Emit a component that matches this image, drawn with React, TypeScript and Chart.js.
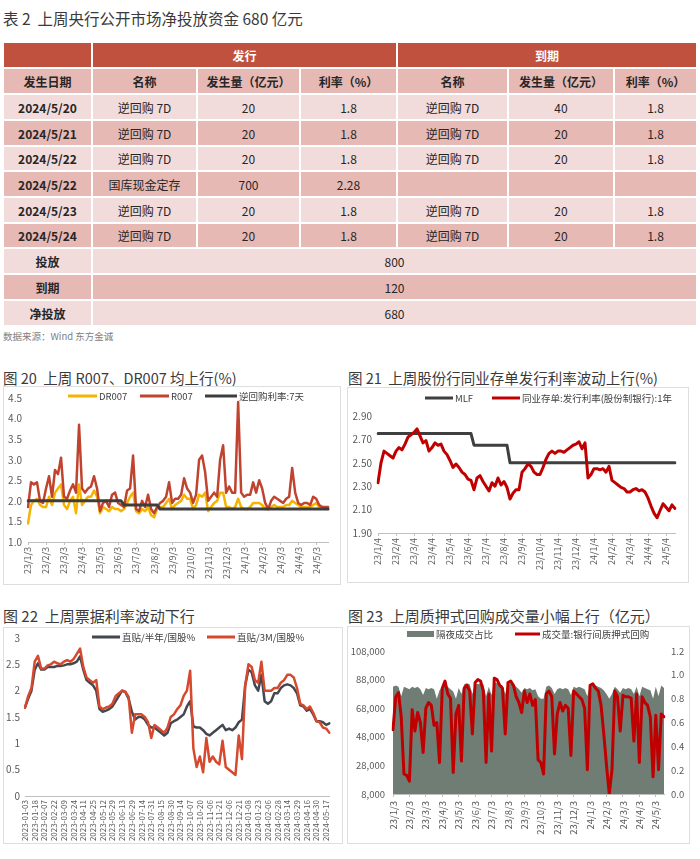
import React, { useEffect, useRef } from 'react';
import { Chart, registerables } from 'chart.js';

Chart.register(...registerables);

const FONT = "'Noto Sans CJK SC', 'Noto Sans', sans-serif";
Chart.defaults.font.family = FONT;

// ---------------- Table data ----------------
const tableTitle = '表 2  上周央行公开市场净投放资金 680 亿元';
const groupHeaders = ['发行', '到期'];
const columnHeaders = ['发生日期', '名称', '发生量（亿元）', '利率（%）', '名称', '发生量（亿元）', '利率（%）'];
const opDates = ['2024/5/20', '2024/5/21', '2024/5/22', '2024/5/22', '2024/5/23', '2024/5/24'];
const issueNames = ['逆回购 7D', '逆回购 7D', '逆回购 7D', '国库现金定存', '逆回购 7D', '逆回购 7D'];
const issueAmounts = ['20', '20', '20', '700', '20', '20'];
const issueRates = ['1.8', '1.8', '1.8', '2.28', '1.8', '1.8'];
const maturityNames = ['逆回购 7D', '逆回购 7D', '逆回购 7D', '', '逆回购 7D', '逆回购 7D'];
const maturityAmounts = ['40', '20', '20', '', '20', '20'];
const maturityRates = ['1.8', '1.8', '1.8', '', '1.8', '1.8'];
const summaryLabels = ['投放', '到期', '净投放'];
const summaryValues = ['800', '120', '680'];
const sourceNote = '数据来源：Wind 东方金诚';

// ---------------- Chart 20 ----------------
const chart20Title = '图 20  上周 R007、DR007 均上行(%)';
const chart20Ticks = ['23/1/3', '23/2/3', '23/3/3', '23/4/3', '23/5/3', '23/6/3', '23/7/3', '23/8/3', '23/9/3', '23/10/3', '23/11/3', '23/12/3', '24/1/3', '24/2/3', '24/3/3', '24/4/3', '24/5/3'];
const chart20Names = ['DR007', 'R007', '逆回购利率:7天'];
const dr007 = [
  1.45, 1.9, 2.0, 2.05, 1.9, 1.85, 1.85, 2.1, 1.9, 2.2,
  2.3, 2.4, 1.9, 1.8, 2.0, 2.1, 1.7, 2.4, 1.9, 2.0,
  2.1, 2.1, 2.25, 2.1, 1.7, 1.85, 1.8, 1.75, 1.85, 1.8,
  1.8, 1.75, 1.8, 1.95, 2.1, 2.2, 1.75, 1.7, 1.8, 1.75,
  1.85, 1.65, 1.6, 1.8, 1.85, 1.85, 1.95, 2.05, 1.8, 1.9,
  1.95, 2.0, 2.15, 2.05, 2.05, 1.8, 1.9, 2.15, 2.1, 2.2,
  1.75, 1.85, 1.95, 2.0, 2.2, 2.2, 1.85, 1.85, 1.8, 1.85,
  2.05, 1.85, 1.8, 1.8, 1.85, 1.95, 1.95, 1.95, 1.9, 1.8,
  1.8, 1.85, 1.9, 1.85, 1.85, 1.85, 1.9, 1.9, 2.0, 1.95,
  1.9, 1.85, 1.85, 1.85, 1.85, 1.9, 1.95, 1.85, 1.85, 1.8,
  1.82,
];
const r007 = [
  1.85, 2.45, 2.4, 2.45, 2.0, 1.95, 2.3, 2.6, 2.1, 2.75,
  2.65, 3.05, 2.1, 2.05, 2.25, 2.4, 2.2, 3.85, 2.3, 2.2,
  2.3, 2.35, 2.6, 2.3, 1.75, 1.95, 2.0, 1.85, 2.15, 2.2,
  1.95, 1.9, 1.85, 2.25, 2.3, 3.1, 1.8, 1.75, 2.0, 1.85,
  2.15, 1.8, 1.7, 1.85, 1.95, 2.0, 2.1, 2.45, 1.95, 2.05,
  2.05, 2.15, 2.55, 2.3, 2.2, 1.95, 2.15, 3.0, 3.1, 2.7,
  2.0, 2.1, 2.2, 2.1, 3.0, 3.35, 2.2, 2.35, 2.2, 2.2,
  4.4, 2.2, 2.1, 2.15, 2.15, 2.45, 2.2, 2.5, 2.3, 1.95,
  1.8, 2.0, 2.1, 2.05, 2.0, 1.95, 2.05, 2.1, 2.8, 2.2,
  1.95, 1.9, 1.95, 1.95, 1.9, 2.1, 2.05, 1.9, 1.85, 1.85,
  1.85,
];
const reverseRepo7d = [
  2.0, 2.0, 2.0, 2.0, 2.0, 2.0, 2.0, 2.0, 2.0, 2.0,
  2.0, 2.0, 2.0, 2.0, 2.0, 2.0, 2.0, 2.0, 2.0, 2.0,
  2.0, 2.0, 2.0, 2.0, 2.0, 2.0, 2.0, 2.0, 2.0, 2.0,
  2.0, 2.0, 1.9, 1.9, 1.9, 1.9, 1.9, 1.9, 1.9, 1.9,
  1.9, 1.9, 1.9, 1.9, 1.8, 1.8, 1.8, 1.8, 1.8, 1.8,
  1.8, 1.8, 1.8, 1.8, 1.8, 1.8, 1.8, 1.8, 1.8, 1.8,
  1.8, 1.8, 1.8, 1.8, 1.8, 1.8, 1.8, 1.8, 1.8, 1.8,
  1.8, 1.8, 1.8, 1.8, 1.8, 1.8, 1.8, 1.8, 1.8, 1.8,
  1.8, 1.8, 1.8, 1.8, 1.8, 1.8, 1.8, 1.8, 1.8, 1.8,
  1.8, 1.8, 1.8, 1.8, 1.8, 1.8, 1.8, 1.8, 1.8, 1.8,
  1.8,
];

// ---------------- Chart 21 ----------------
const chart21Title = '图 21  上周股份行同业存单发行利率波动上行(%)';
const chart21Ticks = ['23/1/4', '23/2/4', '23/3/4', '23/4/4', '23/5/4', '23/6/4', '23/7/4', '23/8/4', '23/9/4', '23/10/4', '23/11/4', '23/12/4', '24/1/4', '24/2/4', '24/3/4', '24/4/4', '24/5/4'];
const chart21Names = ['MLF', '同业存单:发行利率(股份制银行):1年'];
const mlfRate = [
  2.75, 2.75, 2.75, 2.75, 2.75, 2.75, 2.75, 2.75, 2.75, 2.75,
  2.75, 2.75, 2.75, 2.75, 2.75, 2.75, 2.75, 2.75, 2.75, 2.75,
  2.75, 2.75, 2.75, 2.75, 2.75, 2.75, 2.75, 2.75, 2.75, 2.75,
  2.75, 2.75, 2.65, 2.65, 2.65, 2.65, 2.65, 2.65, 2.65, 2.65,
  2.65, 2.65, 2.65, 2.65, 2.5, 2.5, 2.5, 2.5, 2.5, 2.5,
  2.5, 2.5, 2.5, 2.5, 2.5, 2.5, 2.5, 2.5, 2.5, 2.5,
  2.5, 2.5, 2.5, 2.5, 2.5, 2.5, 2.5, 2.5, 2.5, 2.5,
  2.5, 2.5, 2.5, 2.5, 2.5, 2.5, 2.5, 2.5, 2.5, 2.5,
  2.5, 2.5, 2.5, 2.5, 2.5, 2.5, 2.5, 2.5, 2.5, 2.5,
  2.5, 2.5, 2.5, 2.5, 2.5, 2.5, 2.5, 2.5, 2.5, 2.5,
];
const ncdRate = [
  2.33, 2.5, 2.6, 2.58, 2.56, 2.54, 2.6, 2.63, 2.61, 2.66,
  2.72, 2.74, 2.76, 2.79, 2.73, 2.67, 2.69, 2.6, 2.63, 2.67,
  2.65, 2.66, 2.6, 2.57, 2.52, 2.46, 2.49, 2.46, 2.42, 2.4,
  2.36, 2.35, 2.27, 2.37, 2.39, 2.34, 2.3, 2.26, 2.33, 2.3,
  2.37, 2.31, 2.34, 2.29, 2.19, 2.24, 2.27, 2.27, 2.42, 2.45,
  2.49, 2.47, 2.42, 2.4, 2.4, 2.46, 2.53, 2.58, 2.6, 2.58,
  2.6, 2.6, 2.59, 2.61, 2.63, 2.65, 2.66, 2.68, 2.62, 2.67,
  2.37, 2.4, 2.45, 2.45, 2.44, 2.45, 2.42, 2.47, 2.35, 2.33,
  2.31, 2.29, 2.28, 2.25, 2.25, 2.27, 2.28, 2.26, 2.27, 2.25,
  2.2, 2.13, 2.07, 2.03, 2.09, 2.15, 2.12, 2.09, 2.14, 2.11,
];

// ---------------- Chart 22 ----------------
const chart22Title = '图 22  上周票据利率波动下行';
const chart22Ticks = ['2023-01-03', '2023-01-18', '2023-02-07', '2023-02-22', '2023-03-09', '2023-03-24', '2023-04-11', '2023-04-25', '2023-05-12', '2023-05-29', '2023-06-13', '2023-06-29', '2023-07-14', '2023-07-31', '2023-08-15', '2023-08-30', '2023-09-14', '2023-10-07', '2023-10-20', '2023-11-06', '2023-11-21', '2023-12-06', '2023-12-21', '2024-01-08', '2024-01-23', '2024-02-06', '2024-02-28', '2024-03-14', '2024-03-29', '2024-04-16', '2024-04-30', '2024-05-17'];
const chart22Names = ['直贴/半年/国股%', '直贴/3M/国股%'];
const bill6m = [
  1.68, 1.85, 2.0, 2.4, 2.52, 2.4, 2.4, 2.45, 2.45, 2.45,
  2.47, 2.47, 2.48, 2.5, 2.5, 2.52, 2.55, 2.65, 2.4, 2.2,
  2.15, 2.1, 2.0, 1.65, 1.6, 1.62, 1.65, 1.7, 1.8, 1.9,
  2.0, 1.97, 1.85, 1.6, 1.45, 1.5, 1.5, 1.45, 1.35, 1.3,
  1.3, 1.25, 1.2, 1.15, 1.2, 1.38, 1.42, 1.45, 1.5, 1.55,
  1.7, 1.8, 1.32, 1.3, 1.3, 1.25, 1.18, 1.15, 1.2, 1.25,
  1.3, 1.35, 1.25, 1.28, 1.25, 1.3, 1.4, 1.45, 2.1, 2.4,
  2.35, 2.1, 2.0, 2.3, 1.8, 1.75, 1.8, 1.95, 1.95, 2.05,
  2.1, 2.12, 2.1, 2.05, 1.95, 1.72, 1.7, 1.62, 1.65, 1.55,
  1.42, 1.42, 1.4, 1.35, 1.38,
];
const bill3m = [
  1.68, 1.9, 2.05, 2.55, 2.66, 2.42, 2.42, 2.48, 2.5, 2.55,
  2.52, 2.5, 2.55, 2.58, 2.55, 2.6, 2.7, 2.8, 2.45, 2.25,
  2.2, 2.15, 2.2, 1.7, 1.65, 1.68, 1.7, 1.75, 1.9, 1.95,
  2.0, 1.98, 1.88, 1.2, 1.55, 1.55, 1.55, 1.5, 1.4, 1.1,
  1.35, 1.3, 1.25, 1.2, 1.3, 1.5, 1.55, 1.65, 1.72, 1.9,
  2.0, 2.38, 0.9, 0.55, 0.75, 0.45, 1.1, 0.65, 0.75, 0.65,
  0.6, 1.05, 0.55, 0.5, 0.45, 0.4, 1.15, 0.7, 2.1, 2.5,
  2.45, 2.2, 2.15, 2.55, 2.0, 2.0, 2.0, 2.05, 2.05, 2.15,
  2.2, 2.3, 2.3, 2.25, 2.05, 1.75, 1.72, 1.65, 1.7, 1.58,
  1.42, 1.4, 1.3, 1.28, 1.2,
];

// ---------------- Chart 23 ----------------
const chart23Title = '图 23  上周质押式回购成交量小幅上行（亿元）';
const chart23Ticks = ['23/1/3', '23/2/3', '23/3/3', '23/4/3', '23/5/3', '23/6/3', '23/7/3', '23/8/3', '23/9/3', '23/10/3', '23/11/3', '23/12/3', '24/1/3', '24/2/3', '24/3/3', '24/4/3', '24/5/3'];
const chart23Names = ['隔夜成交占比', '成交量:银行间质押式回购'];
const overnightShare = [
  0.9, 0.91, 0.9, 0.82, 0.9, 0.89, 0.88, 0.9, 0.89, 0.9,
  0.88, 0.83, 0.89, 0.88, 0.89, 0.88, 0.8, 0.87, 0.9, 0.91,
  0.9, 0.88, 0.86, 0.8, 0.89, 0.84, 0.92, 0.93, 0.92, 0.84,
  0.93, 0.92, 0.93, 0.92, 0.82, 0.9, 0.83, 0.94, 0.93, 0.92,
  0.91, 0.84, 0.93, 0.93, 0.92, 0.9, 0.88, 0.85, 0.89, 0.88,
  0.89, 0.87, 0.88, 0.82, 0.8, 0.8, 0.9, 0.91, 0.89, 0.84,
  0.88, 0.89, 0.88, 0.89, 0.88, 0.83, 0.9, 0.89, 0.9, 0.89,
  0.88, 0.82, 0.92, 0.92, 0.91, 0.9, 0.89, 0.87, 0.84, 0.8,
  0.84, 0.9, 0.88, 0.85, 0.89, 0.88, 0.89, 0.88, 0.84, 0.9,
  0.82, 0.9, 0.89, 0.88, 0.87, 0.8, 0.9, 0.82, 0.91, 0.89,
];
const repoVolume = [
  53000, 76000, 79000, 62000, 22000, 21000, 17000, 67000, 52000, 65000,
  58000, 37000, 68000, 72000, 70000, 56000, 58000, 30000, 82000, 87000,
  78000, 75000, 23000, 64000, 70000, 31000, 82000, 84000, 80000, 50000,
  86000, 88000, 87000, 80000, 30000, 78000, 38000, 89000, 88000, 84000,
  82000, 50000, 86000, 87000, 84000, 76000, 72000, 65000, 80000, 72000,
  78000, 70000, 74000, 32000, 30000, 22000, 78000, 80000, 76000, 36000,
  64000, 72000, 66000, 70000, 68000, 35000, 80000, 78000, 76000, 74000,
  68000, 25000, 84000, 85000, 82000, 80000, 70000, 50000, 28000, 8000,
  25000, 80000, 76000, 52000, 77000, 76000, 76000, 75000, 45000, 78000,
  30000, 76000, 72000, 70000, 62000, 20000, 63000, 25000, 64000, 62000,
];

// ---------------- helpers ----------------
const TICK_COLOR = '#595959';
const AXIS_COLOR = '#bfbfbf';

function spreadLabels(ticks: string[], every: number, count: number): string[] {
  const out: string[] = [];
  for (let i = 0; i < count; i++) {
    out.push(i % every === 0 && ticks[i / every] !== undefined ? ticks[i / every] : '');
  }
  return out;
}

type LegendItem = { ds: number; x: number; len: number; box?: boolean };

function legendPlugin(y: number, items: LegendItem[], size: number) {
  return {
    id: 'overlayLegend',
    afterDraw(chart: any) {
      const ctx = chart.ctx as CanvasRenderingContext2D;
      ctx.save();
      ctx.font = `${size}px ${FONT}`;
      ctx.textBaseline = 'middle';
      ctx.textAlign = 'left';
      items.forEach((it) => {
        const ds = chart.data.datasets[it.ds];
        if (it.box) {
          ctx.fillStyle = ds.backgroundColor;
          ctx.fillRect(it.x, y - 3, it.len, 6);
        } else {
          ctx.strokeStyle = ds.borderColor;
          ctx.lineWidth = 3;
          ctx.beginPath();
          ctx.moveTo(it.x, y);
          ctx.lineTo(it.x + it.len, y);
          ctx.stroke();
        }
        ctx.fillStyle = '#404040';
        ctx.fillText(ds.label, it.x + it.len + 2, y);
      });
      ctx.restore();
    },
  };
}

function catX(height: number, fontSize: number, padding: number, tickLen: number) {
  return {
    type: 'category',
    offset: false,
    grid: {
      display: tickLen > 0,
      drawOnChartArea: false,
      drawTicks: tickLen > 0,
      tickLength: tickLen,
      color: (c: any) => (c.tick && c.tick.label ? AXIS_COLOR : 'rgba(0,0,0,0)'),
    },
    border: { display: true, color: AXIS_COLOR, width: 1 },
    ticks: { autoSkip: false, maxRotation: 90, minRotation: 90, padding, color: TICK_COLOR, font: { size: fontSize } },
    afterFit: (s: any) => {
      s.height = height;
    },
  };
}

function linY(min: number, max: number, step: number, width: number, padding: number, fmt: (v: number) => string, position = 'left', fontSize = 10) {
  return {
    type: 'linear',
    position,
    min,
    max,
    ticks: { stepSize: step, callback: (v: any) => fmt(Number(v)), color: TICK_COLOR, font: { size: fontSize }, padding },
    grid: { display: false, drawTicks: false, tickLength: 0 },
    border: { display: false },
    afterFit: (s: any) => {
      s.width = width;
    },
  };
}

function lineDs(label: string, data: number[], color: string, width: number, order: number, extra: any = {}) {
  return {
    type: 'line',
    label,
    data,
    borderColor: color,
    backgroundColor: color,
    borderWidth: width,
    pointRadius: 0,
    tension: 0,
    fill: false,
    order,
    borderJoinStyle: 'round',
    borderCapStyle: 'round',
    ...extra,
  };
}

function ChartCanvas({ left, top, width, height, make }: { left: number; top: number; width: number; height: number; make: () => any }) {
  const ref = useRef<HTMLCanvasElement>(null);
  useEffect(() => {
    const chart = new Chart(ref.current as HTMLCanvasElement, make());
    return () => chart.destroy();
  }, []);
  return (
    <>
      <div style={{ position: 'absolute', left, top, width, height, border: '1px solid #dedede', boxSizing: 'border-box' }} />
      <canvas ref={ref} width={width} height={height} style={{ position: 'absolute', left, top, width, height, display: 'block' }} />
    </>
  );
}

const baseOptions = (padding: any, scales: any) => ({
  responsive: false,
  animation: false,
  events: [],
  layout: { padding },
  plugins: { legend: { display: false }, tooltip: { enabled: false } },
  scales,
});

function makeChart20() {
  const labels = spreadLabels(chart20Ticks, 6, r007.length);
  return {
    type: 'line',
    data: {
      labels,
      datasets: [
        lineDs(chart20Names[0], dr007, '#f5b400', 2.5, 2),
        lineDs(chart20Names[1], r007, '#c0432f', 2.5, 1),
        lineDs(chart20Names[2], reverseRepo7d, '#3d3d3d', 3, 0),
      ],
    },
    options: baseOptions(
      { left: 0, top: 5, right: 4, bottom: 3 },
      { x: catX(40, 9, 2, 3), y: linY(1, 4.5, 0.5, 25, 6, (v) => v.toFixed(1)) }
    ),
    plugins: [legendPlugin(10, [{ ds: 0, x: 65, len: 29 }, { ds: 1, x: 137, len: 29 }, { ds: 2, x: 202, len: 32 }], 9.5)],
  };
}

function makeChart21() {
  const labels = spreadLabels(chart21Ticks, 6, ncdRate.length);
  return {
    type: 'line',
    data: {
      labels,
      datasets: [
        lineDs(chart21Names[0], mlfRate, '#3f3f3f', 3, 1),
        lineDs(chart21Names[1], ncdRate, '#c00000', 3, 0),
      ],
    },
    options: baseOptions(
      { left: 0, top: 29, right: 14, bottom: 3 },
      { x: catX(47, 9, 2, 3), y: linY(1.9, 2.9, 0.2, 31, 6, (v) => v.toFixed(2)) }
    ),
    plugins: [legendPlugin(11, [{ ds: 0, x: 78, len: 28 }, { ds: 1, x: 145, len: 28 }], 9.5)],
  };
}

function makeChart22() {
  const labels = spreadLabels(chart22Ticks, 3, bill3m.length);
  return {
    type: 'line',
    data: {
      labels,
      datasets: [
        lineDs(chart22Names[0], bill6m, '#45474f', 2.5, 1),
        lineDs(chart22Names[1], bill3m, '#d5492e', 2.5, 0),
      ],
    },
    options: baseOptions(
      { left: 0, top: 6, right: 5, bottom: 2 },
      { x: catX(46, 8, 4, 0), y: linY(0, 3, 0.5, 22, 5, (v) => String(v)) }
    ),
    plugins: [legendPlugin(10, [{ ds: 0, x: 89, len: 28 }, { ds: 1, x: 204, len: 28 }], 9.5)],
  };
}

function makeChart23() {
  const labels = spreadLabels(chart23Ticks, 6, repoVolume.length);
  return {
    type: 'line',
    data: {
      labels,
      datasets: [
        lineDs(chart23Names[0], overnightShare, '#707d74', 0, 1, { fill: 'start', yAxisID: 'y1', backgroundColor: '#707d74' }),
        lineDs(chart23Names[1], repoVolume, '#c00000', 3, 0, { yAxisID: 'y' }),
      ],
    },
    options: baseOptions(
      { left: 0, top: 25, right: 0, bottom: 3 },
      {
        x: catX(47, 9.5, 4, 3),
        y: linY(8000, 108000, 20000, 46, 8, (v) => v.toLocaleString('en-US'), 'left', 9.5),
        y1: linY(0, 1.2, 0.2, 26, 7, (v) => v.toFixed(1), 'right', 9.5),
      }
    ),
    plugins: [legendPlugin(8, [{ ds: 0, x: 60, len: 27, box: true }, { ds: 1, x: 168, len: 25 }], 9.5)],
  };
}

// ---------------- table ----------------
const COLS = [3, 92, 197, 300, 397, 508, 614, 697];
const ROWS = [42, 68, 94, 120, 146, 171, 197, 223, 248, 274, 300, 326];
const DARK = '#c0513e';
const MID = '#e6b9b4';
const LIGHT = '#f2dcdb';

function Cell({ c0, c1, r, bg, text, bold, color }: { c0: number; c1: number; r: number; bg: string; text: string; bold?: boolean; color?: string }) {
  return (
    <div
      style={{
        position: 'absolute',
        left: COLS[c0] + 1,
        top: ROWS[r] + 1,
        width: COLS[c1] - COLS[c0] - 2,
        height: ROWS[r + 1] - ROWS[r] - 2,
        background: bg,
        display: 'flex',
        alignItems: 'center',
        justifyContent: 'center',
        fontSize: 12,
        fontWeight: bold ? 700 : 400,
        color: color || '#262626',
        whiteSpace: 'nowrap',
      }}
    >
      {text}
    </div>
  );
}

function Table() {
  const cells: React.ReactNode[] = [];
  cells.push(<Cell key="h0" c0={0} c1={1} r={0} bg={DARK} text="" />);
  cells.push(<Cell key="h1" c0={1} c1={4} r={0} bg={DARK} text={groupHeaders[0]} bold color="#fff" />);
  cells.push(<Cell key="h2" c0={4} c1={7} r={0} bg={DARK} text={groupHeaders[1]} bold color="#fff" />);
  columnHeaders.forEach((h, i) => cells.push(<Cell key={'c' + i} c0={i} c1={i + 1} r={1} bg={MID} text={h} bold />));
  opDates.forEach((d, k) => {
    const r = 2 + k;
    const bg = k % 2 === 0 ? LIGHT : MID;
    const vals = [d, issueNames[k], issueAmounts[k], issueRates[k], maturityNames[k], maturityAmounts[k], maturityRates[k]];
    vals.forEach((v, i) => cells.push(<Cell key={`d${k}-${i}`} c0={i} c1={i + 1} r={r} bg={bg} text={v} bold={i === 0} />));
  });
  summaryLabels.forEach((s, k) => {
    const r = 8 + k;
    const bg = k % 2 === 0 ? LIGHT : MID;
    cells.push(<Cell key={`s${k}a`} c0={0} c1={1} r={r} bg={bg} text={s} bold />);
    cells.push(<Cell key={`s${k}b`} c0={1} c1={7} r={r} bg={bg} text={summaryValues[k]} />);
  });
  return <>{cells}</>;
}

const titleStyle = (left: number, top: number, size = 15): React.CSSProperties => ({
  position: 'absolute',
  left,
  top,
  fontSize: size,
  lineHeight: '22px',
  color: '#3a3a3a',
  whiteSpace: 'pre',
});

export default function App() {
  return (
    <div style={{ position: 'fixed', left: 0, top: 0, width: 700, height: 859, background: '#fff', overflow: 'hidden', fontFamily: FONT }}>
      <div style={titleStyle(3, 7, 15.5)}>{tableTitle}</div>
      <Table />
      <div style={{ position: 'absolute', left: 3, top: 329, fontSize: 9.5, lineHeight: '14px', color: '#808080', whiteSpace: 'pre' }}>{sourceNote}</div>

      <div style={titleStyle(3, 367, 14.5)}>{chart20Title}</div>
      <div style={titleStyle(348, 367, 14.5)}>{chart21Title}</div>
      <div style={titleStyle(3, 605)}>{chart22Title}</div>
      <div style={titleStyle(348, 605)}>{chart23Title}</div>

      <ChartCanvas left={3} top={386} width={338} height={199} make={makeChart20} />
      <ChartCanvas left={347} top={387} width={342} height={196} make={makeChart21} />
      <ChartCanvas left={3} top={627} width={340} height={217} make={makeChart22} />
      <ChartCanvas left={347} top={626} width={343} height={218} make={makeChart23} />
    </div>
  );
}
